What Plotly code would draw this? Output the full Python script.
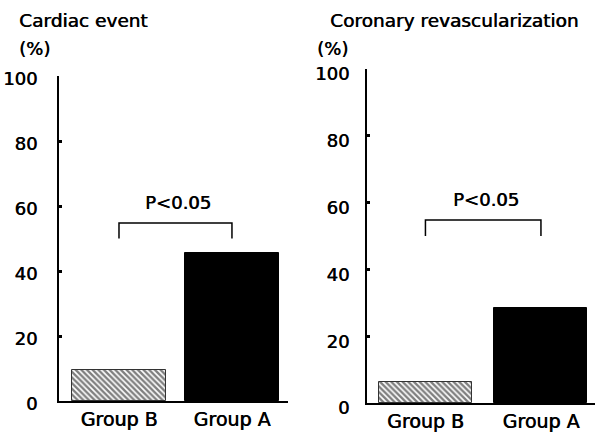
import plotly.graph_objects as go

groups = ["Group B", "Group A"]
cardiac_event = [9.5, 45.6]
coronary_revasc = [6.3, 28.5]
panel_titles = ["Cardiac event", "Coronary revascularization"]
y_ticks = [0, 20, 40, 60, 80, 100]
p_label = "P<0.05"
bracket_low, bracket_high = 50, 54.8
p_y = 61

W, H = 600, 436
SHADOW = "0.6px 0 0 black"
FONT = dict(family="DejaVu Sans", size=18, color="black", shadow=SHADOW)
FONT_T = dict(family="DejaVu Sans", size=18.5, color="black", shadow=SHADOW)
FONT_L = dict(family="DejaVu Sans", size=19, color="black", shadow=SHADOW)

def px(x):
    return x / W

def py(y):
    return 1 - y / H

fig = go.Figure()

panels = [
    dict(vals=cardiac_event, xa="x", ya="y", xdom=[px(59), px(288)], ydom=[py(401), py(76)],
         xr=[-0.531, 1.496], width=0.832, title=panel_titles[0], tx=17, px_=17, standoff=16, shift=3),
    dict(vals=coronary_revasc, xa="x2", ya="y2", xdom=[px(367), px(595)], ydom=[py(403), py(69)],
         xr=[-0.506, 1.468], width=0.805, title=panel_titles[1], tx=328, px_=315, standoff=12, shift=5),
]

for i, p in enumerate(panels):
    xs = list(range(len(groups)))
    # Group B hatched bar
    fig.add_trace(go.Bar(
        x=[xs[0]], y=[p["vals"][0]], xaxis=p["xa"], yaxis=p["ya"], width=p["width"],
        marker=dict(color="white", line=dict(color="#333", width=1),
                    pattern=dict(shape="\\", fgcolor="black", bgcolor="white", size=4, solidity=0.6)),
        showlegend=False, hoverinfo="skip"))
    # Group A solid bar
    fig.add_trace(go.Bar(
        x=[xs[1]], y=[p["vals"][1]], xaxis=p["xa"], yaxis=p["ya"], width=p["width"],
        marker=dict(color="black", line=dict(color="black", width=1)),
        showlegend=False, hoverinfo="skip"))
    # significance bracket
    fig.add_trace(go.Scatter(
        x=[xs[0], xs[0], xs[1], xs[1]], y=[bracket_low, bracket_high, bracket_high, bracket_low],
        xaxis=p["xa"], yaxis=p["ya"], mode="lines", line=dict(color="black", width=1.5),
        showlegend=False, hoverinfo="skip"))
    fig.add_annotation(x=0.5 * (xs[0] + xs[1]) + 0.02, y=p_y, xref=p["xa"], yref=p["ya"],
                       text=p_label, showarrow=False, font=FONT, yanchor="middle")
    # titles
    fig.add_annotation(x=px(p["tx"]), y=py(21), xref="paper", yref="paper", text=p["title"],
                       showarrow=False, font=FONT_T, xanchor="left", yanchor="middle")
    fig.add_annotation(x=px(p["px_"]), y=py(48), xref="paper", yref="paper", text="(%)",
                       showarrow=False, font=FONT, xanchor="left", yanchor="middle")
    suffix = "" if i == 0 else "2"
    fig.update_layout(**{
        "xaxis" + suffix: dict(domain=p["xdom"], range=p["xr"], tickvals=xs, ticktext=groups,
                               showline=True, linecolor="black", linewidth=2, ticks="",
                               showgrid=False, zeroline=False, tickfont=FONT_L, automargin=False,
                               ticklabelstandoff=0, anchor="y" + suffix, fixedrange=True),
        "yaxis" + suffix: dict(domain=p["ydom"], range=[0, 100], tickvals=y_ticks,
                               showline=True, linecolor="black", linewidth=2, ticks="inside",
                               ticklen=3, tickwidth=3, tickcolor="black", automargin=False,
                               showgrid=False, zeroline=False, tickfont=FONT,
                               ticklabelstandoff=p["standoff"], ticklabelshift=p["shift"],
                               anchor="x" + suffix, fixedrange=True),
    })

fig.update_layout(width=W, height=H, margin=dict(l=0, r=0, t=0, b=0),
                  paper_bgcolor="white", plot_bgcolor="white", bargap=0, barmode="overlay")

fig.write_html("out.html")
